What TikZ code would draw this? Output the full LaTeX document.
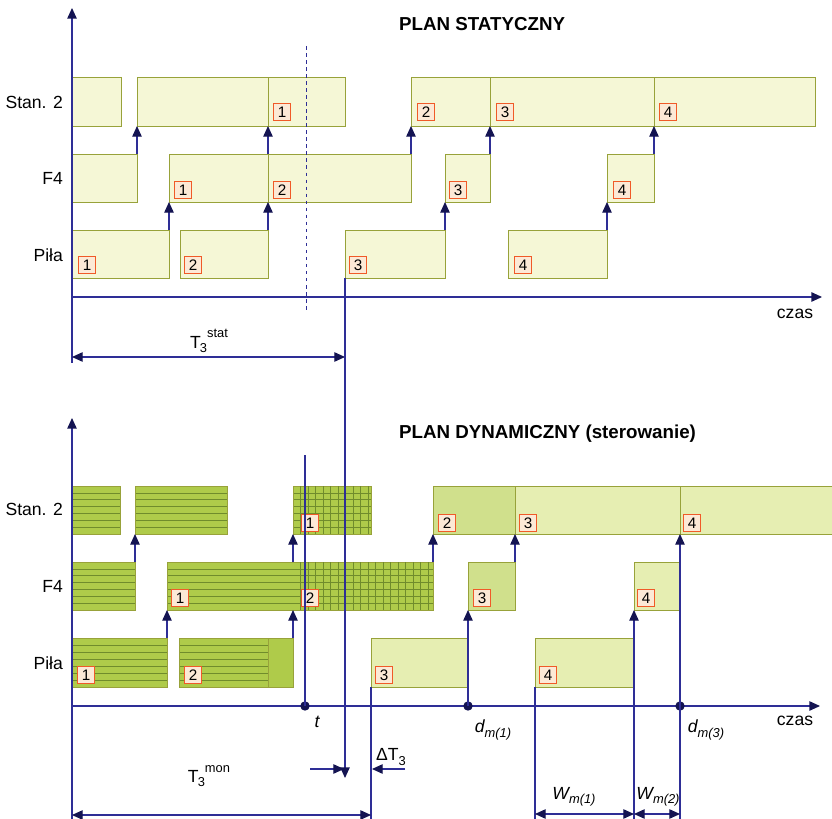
\documentclass[tikz,border=0pt]{standalone}
\usepackage{fontspec}
\setmainfont{Liberation Sans}
\usetikzlibrary{arrows.meta}
\definecolor{axisblue}{HTML}{2E2E96}
\definecolor{tipnavy}{HTML}{141452}
\definecolor{edgegreen}{HTML}{98A23A}
\definecolor{palefill}{HTML}{F5F7D6}
\definecolor{lightfill}{HTML}{E6EEB2}
\definecolor{midfill}{HTML}{D0E08C}
\definecolor{darkfill}{HTML}{AFCB4A}
\definecolor{hatchline}{HTML}{708C2C}
\definecolor{numred}{HTML}{F05A28}
\definecolor{numfill}{HTML}{FCE9D6}

% box with horizontal hatching: x1, y1, x2, y2
\newcommand{\hatchrect}[4]{%
  \fill[darkfill] (#1,#2) rectangle (#3,#4);
  \foreach \k in {1,...,6}
    \draw[hatch] (#1,{#2+\k*(#4-#2)/7}) -- (#3,{#2+\k*(#4-#2)/7});
  \draw[slot] (#1,#2) rectangle (#3,#4);
}
\newcommand{\lowtxt}[1]{\raisebox{-0.45ex}{\fontsize{11}{11}\selectfont #1}}
\newcommand{\hightxt}[1]{\raisebox{1.1ex}{\fontsize{11}{11}\selectfont #1}}

\begin{document}
\begin{tikzpicture}[x=0.03cm, y=-0.03cm,
    every node/.style={font=\fontsize{15}{17}\selectfont},
    tip/.style={-{Triangle[length=9pt, width=8pt, color=tipnavy]}},
    axis/.style={draw=axisblue, line width=1pt},
    flow/.style={draw=axisblue, line width=0.9pt, tip},
    dim/.style={draw=axisblue, line width=0.9pt, {Triangle[length=9pt, width=8pt, color=tipnavy]}-{Triangle[length=9pt, width=8pt, color=tipnavy]}},
    slot/.style={draw=edgegreen, line width=0.8pt},
    hatch/.style={draw=hatchline, line width=0.55pt},
    num/.style={draw=numred, fill=numfill, line width=0.8pt, minimum size=0.5cm, inner sep=0pt, font=\fontsize{13}{13}\selectfont},
    lane/.style={anchor=east},
    heading/.style={anchor=west, font=\fontsize{16}{18}\selectfont\bfseries},
    dot/.style={circle, fill=tipnavy, inner sep=0pt, minimum size=8pt},
  ]
  \useasboundingbox (0,0) rectangle (832,819);

  % static plan
  \node[heading] (titleA) at (395,24) {PLAN STATYCZNY};
  \node[lane] (stanA) at (67,102) {Stan. 2};
  \node[lane] (f4A) at (67,178) {F4};
  \node[lane] (pilaA) at (67,255) {Piła};

  \foreach \a/\b in {72/121, 137/268, 268/345, 411/490, 490/654, 654/815}
    \draw[slot, fill=palefill] (\a,77) rectangle (\b,126);
  \foreach \a/\b in {72/137, 169/268, 268/411, 445/490, 607/654}
    \draw[slot, fill=palefill] (\a,154) rectangle (\b,202);
  \foreach \a/\b in {72/169, 180/268, 345/445, 508/607}
    \draw[slot, fill=palefill] (\a,230) rectangle (\b,278);

  \foreach \x in {137, 268, 411, 490, 654}
    \draw[flow] (\x,154) -- (\x,126);
  \foreach \x in {169, 268, 445, 607}
    \draw[flow] (\x,230) -- (\x,202);

  \foreach \n/\x in {1/282, 2/426, 3/505, 4/668}
    \node[num] (sA\n) at (\x,112) {\n};
  \foreach \n/\x in {1/183, 2/282, 3/458, 4/622}
    \node[num] (fA\n) at (\x,190) {\n};
  \foreach \n/\x in {1/87, 2/193, 3/358, 4/523}
    \node[num] (pA\n) at (\x,265) {\n};

  \draw[axisblue, dashed, line width=0.8pt] (306,46) -- (306,313);
  \draw[axis, tip] (72,363) -- (72,8);
  \draw[axis, tip] (72,297) -- (822,297);
  \node (czasA) at (795,314) {czas};

  \draw[dim] (72,357) -- (345,357);
  \node (tstat) at (209,341) {T\kern-0.05em\lowtxt{3}\hightxt{stat}};

  % dynamic plan
  \node[heading] (titleB) at (395,434) {PLAN DYNAMICZNY (sterowanie)};
  \node[lane] (stanB) at (67,509) {Stan. 2};
  \node[lane] (f4B) at (67,586) {F4};
  \node[lane] (pilaB) at (67,663) {Piła};

  \hatchrect{72}{486}{120}{534}
  \hatchrect{135}{486}{227}{534}
  \hatchrect{293}{486}{371}{534}
  \foreach \gx in {300.5,308,...,368}
    \draw[hatch] (\gx,486) -- (\gx,534);
  \draw[slot, fill=midfill] (433,486) rectangle (515,534);
  \draw[slot, fill=lightfill] (515,486) rectangle (680,534);
  \fill[lightfill] (680,486) rectangle (832,534);
  \draw[slot] (832,486) -- (680,486) -- (680,534) -- (832,534);

  \hatchrect{72}{562}{135}{610}
  \hatchrect{167}{562}{433}{610}
  \foreach \gx in {300.5,308,...,430}
    \draw[hatch] (\gx,562) -- (\gx,610);
  \draw[slot, fill=midfill] (468,562) rectangle (515,610);
  \draw[slot, fill=lightfill] (634,562) rectangle (680,610);

  \hatchrect{72}{638}{167}{687}
  \fill[darkfill] (179,638) rectangle (293,687);
  \foreach \k in {1,...,6}
    \draw[hatch] (179,{638+\k*7}) -- (268,{638+\k*7});
  \draw[slot] (179,638) rectangle (293,687) (268,638) -- (268,687);
  \draw[slot, fill=lightfill] (371,638) rectangle (468,687);
  \draw[slot, fill=lightfill] (535,638) rectangle (634,687);

  \foreach \n/\x in {1/310, 2/447, 3/528, 4/692}
    \node[num] (sB\n) at (\x,523) {\n};
  \foreach \n/\x in {1/180, 2/310, 3/482, 4/646}
    \node[num] (fB\n) at (\x,598) {\n};
  \foreach \n/\x in {1/86, 2/193, 3/384, 4/548}
    \node[num] (pB\n) at (\x,675) {\n};

  \draw[axis, tip] (72,819) -- (72,418);
  \draw[axis, tip] (72,706) -- (820,706);
  \node (czasB) at (795,721) {czas};

  \node[dot] (t) at (305,706) {};
  \node[dot] (dm1) at (468,706) {};
  \node[dot] (dm3) at (680,706) {};
  \coordinate (ttop) at (305,455);
  \draw[axis, line width=0.9pt] (ttop) -- (t.center);

  \foreach \x in {135, 293, 433, 515}
    \draw[flow] (\x,562) -- (\x,534);
  \foreach \x in {167, 293}
    \draw[flow] (\x,638) -- (\x,610);
  \draw[flow] (dm1.center) -- (468,610);
  \draw[flow] (634,819) -- (634,610);
  \draw[flow] (680,819) -- (680,534);
  \draw[axis, line width=0.9pt] (371,687) -- (371,819);
  \draw[axis, line width=0.9pt] (535,687) -- (535,819);

  \draw[flow, line width=1pt] (345,278) -- (345,778);

  \node (tlab) at (317,722) {\itshape t};
  \node (dlab1) at (493,730) {\itshape d\lowtxt{m(1)}};
  \node (dlab3) at (706,730) {\itshape d\lowtxt{m(3)}};

  \draw[flow] (310,769) -- (344,769);
  \draw[flow] (405,769) -- (372,769);
  \node (dT) at (391,757) {ΔT\lowtxt{3}};

  \draw[dim] (72,815) -- (371,815);
  \node (tmon) at (209,776) {T\kern-0.05em\lowtxt{3}\hightxt{mon}};
  \draw[dim] (535,814) -- (634,814);
  \draw[dim] (634,814) -- (680,814);
  \node (w1) at (574,797) {\itshape W\lowtxt{m(1)}};
  \node (w2) at (658,797) {\itshape W\lowtxt{m(2)}};
\end{tikzpicture}
\end{document}
